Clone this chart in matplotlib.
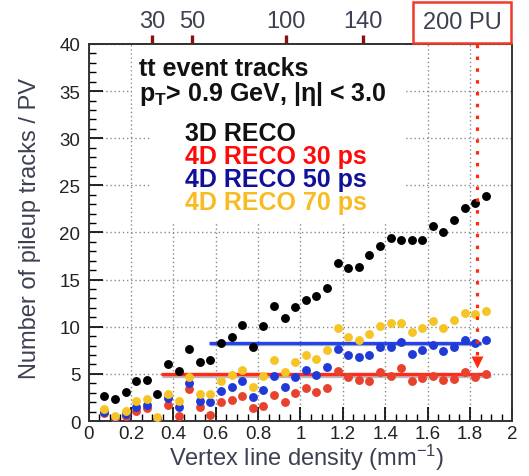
import matplotlib.pyplot as plt
import matplotlib.patheffects as pe
from matplotlib.patches import Rectangle
from matplotlib.ticker import MultipleLocator, FuncFormatter, NullLocator
from matplotlib.transforms import blended_transform_factory

plt.rcParams["font.family"] = ["Liberation Sans", "DejaVu Sans"]
plt.rcParams["mathtext.fontset"] = "custom"
plt.rcParams["mathtext.rm"] = "Liberation Sans"
plt.rcParams["mathtext.it"] = "Liberation Sans:italic"
plt.rcParams["mathtext.bf"] = "Liberation Sans:bold"

# Centres des intervalles de densité de vertex (mm^-1)
density = [0.075, 0.125, 0.175, 0.225, 0.275, 0.325, 0.375, 0.425, 0.475,
           0.525, 0.575, 0.625, 0.675, 0.725, 0.775, 0.825, 0.875, 0.925,
           0.975, 1.025, 1.075, 1.125, 1.175, 1.225, 1.275, 1.325, 1.375,
           1.425, 1.475, 1.525, 1.575, 1.625, 1.675, 1.725, 1.775, 1.825,
           1.875]

# Nombre de traces d'empilement par vertex primaire
reco_3d = [2.69, 2.34, 3.04, 4.21, 4.39, 2.83, 6.02, 5.31, 7.64,
           6.23, 6.51, 8.28, 8.95, 10.19, 7.82, 10.05, 12.24, 10.9,
           12.1, 12.88, 13.3, 14.12, 16.77, 16.24, 16.38, 17.66, 18.55,
           19.43, 19.21, 19.25, 19.25, 20.67, 20.1, 21.37, 22.58, 23.14,
           23.85]
reco_4d_30ps = [0.85, 0.3, 0.57, 1.1, 1.38, 0.2, 1.7, 0.57, 3.4,
                1.45, 0.64, 1.98, 2.23, 2.62, 1.38, 1.62, 2.79, 1.98,
                2.95, 3.47, 3.04, 3.5, 5.27, 4.64, 4.39, 4.28, 5.24,
                4.74, 5.63, 4.28, 4.56, 4.74, 4.39, 4.46, 5.17, 4.7,
                4.99]
reco_4d_50ps = [1.0, 0.45, 0.7, 1.45, 1.7, 0.3, 2.41, 1.52, 4.0,
                2.16, 1.98, 3.22, 3.64, 4.28, 2.51, 3.29, 4.74, 3.57,
                4.67, 5.45, 4.92, 5.7, 7.64, 7.0, 6.76, 7.0, 7.82,
                7.82, 8.35, 7.11, 7.54, 8.07, 7.47, 7.82, 8.63, 8.28,
                8.63]
reco_4d_70ps = [1.27, 0.57, 1.1, 2.09, 2.34, 0.45, 2.87, 2.09, 4.64,
                2.87, 2.87, 4.28, 4.88, 5.41, 3.57, 4.74, 6.48, 5.17,
                6.27, 7.0, 6.58, 7.54, 9.84, 8.95, 8.63, 9.24, 10.05,
                10.37, 10.37, 9.42, 9.87, 10.58, 9.84, 10.72, 11.43, 11.36,
                11.68]

# Niveaux moyens et conditions d'empilement (axe du haut)
level_30ps = (0.342, 1.895, 5.0)
level_50ps = (0.57, 1.85, 8.3)
pu_values = [30, 50, 100, 140]
pu_density = [0.30, 0.49, 0.93, 1.295]
pu200_density = 1.835

text_grey = "#3d4050"


def main():
    fig = plt.figure(figsize=(5.29, 4.77), dpi=100)
    ax = fig.add_axes([0.1675, 0.1153, 0.801, 0.7904])
    ax.set_xlim(0, 2)
    ax.set_ylim(0, 40)
    ax.set_axisbelow(True)

    # Grille pointillée façon ROOT
    ax.grid(True, which="major", color="#8a8a8a", linestyle=(0, (1, 2)), linewidth=1.0)
    ax.xaxis.set_major_locator(MultipleLocator(0.2))
    ax.xaxis.set_minor_locator(MultipleLocator(0.05))
    ax.yaxis.set_major_locator(MultipleLocator(5))
    ax.yaxis.set_minor_locator(MultipleLocator(1))
    fmt = FuncFormatter(lambda v, p: f"{v:g}")
    ax.xaxis.set_major_formatter(fmt)
    ax.yaxis.set_major_formatter(fmt)
    ax.tick_params(which="major", direction="in", length=10, width=1.2,
                   labelsize=13.5, labelcolor="#222222", top=False, right=False)
    ax.tick_params(which="minor", direction="in", length=5, width=1.0,
                   top=False, right=False)
    ax.tick_params(axis="y", pad=6)
    ax.tick_params(axis="x", pad=3)
    for s in ax.spines.values():
        s.set_linewidth(1.4)
        s.set_color("#333333")

    # Fonds blancs derrière les textes
    ax.add_patch(Rectangle((0.205, 33.65), 1.285, 6.35, fc="white", ec="none", zorder=1))
    ax.add_patch(Rectangle((0.29, 21.0), 1.2, 12.7, fc="white", ec="none", zorder=1))

    shadow = [pe.SimpleLineShadow(offset=(0.6, -1.2), shadow_color="#777777", alpha=0.5),
              pe.Normal()]
    ax.hlines(level_30ps[2], level_30ps[0], level_30ps[1], color="#ff2a1a",
              lw=2.4, zorder=2.5, path_effects=shadow)
    ax.hlines(level_50ps[2], level_50ps[0], level_50ps[1], color="#2244ee",
              lw=2.4, zorder=2.5, path_effects=shadow)

    ms = 6.4
    ax.plot(density, reco_3d, "o", color="black", ms=ms, mec="none", zorder=3)
    ax.plot(density, reco_4d_30ps, "o", color="#e8422e", ms=ms, mec="none", zorder=3)
    ax.plot(density, reco_4d_50ps, "o", color="#1f3ad6", ms=ms, mec="none", zorder=3)
    ax.plot(density, reco_4d_70ps, "o", color="#f6c425", ms=ms, mec="none", zorder=3)

    # Ligne verticale à 200 PU
    ax.plot([pu200_density, pu200_density], [7.0, 40], color="#ff2a10",
            lw=2.3, linestyle=(0, (1.1, 2.6)), zorder=4, clip_on=False)
    ax.plot([pu200_density], [6.3], "v", color="#ff2a10", ms=9, mec="none", zorder=4)

    # Textes
    ax.text(0.119, 0.90, "tt event tracks\n" + r"p$_{\mathbf{T}}$> 0.9 GeV, |η| < 3.0",
            transform=ax.transAxes, fontsize=18, fontweight="bold", color="#111111",
            va="center", linespacing=0.95, zorder=5)
    labels = [("3D RECO", "#111111"), ("4D RECO 30 ps", "#ff0a0a"),
              ("4D RECO 50 ps", "#10109a"), ("4D RECO 70 ps", "#f8bb22")]
    for (lab, col), y in zip(labels, [0.764, 0.703, 0.642, 0.581]):
        ax.text(0.2275, y, lab, transform=ax.transAxes, fontsize=18,
                fontweight="bold", color=col, va="center", zorder=5)

    # Axe du haut : nombre de collisions d'empilement
    sec = ax.secondary_xaxis("top")
    sec.set_xticks(pu_density, labels=[str(p) for p in pu_values])
    sec.xaxis.set_minor_locator(NullLocator())
    sec.tick_params(direction="inout", length=13, width=2.4, color="#8b1010",
                    labelsize=17, labelcolor=text_grey, pad=2)
    sec.spines["top"].set_linewidth(1.4)
    sec.spines["top"].set_color("#333333")

    trans = blended_transform_factory(ax.transData, ax.transAxes)
    ax.text(1.763, 1.058, "200 PU", transform=trans, fontsize=17, color=text_grey,
            ha="center", va="center", clip_on=False,
            bbox=dict(boxstyle="square,pad=0.4", fc="white", ec="#f03a2a", lw=1.8))

    fig.text(0.057, 0.522, "Number of pileup tracks / PV", rotation=90,
             ha="center", va="center", fontsize=17, color=text_grey)
    fig.text(0.58, 0.04, r"Vertex line density (mm$^{\mathregular{-1}}$)",
             ha="center", va="center", fontsize=17, color=text_grey)

    fig.savefig("out.png", dpi=100)
    plt.close(fig)


if __name__ == "__main__":
    main()
